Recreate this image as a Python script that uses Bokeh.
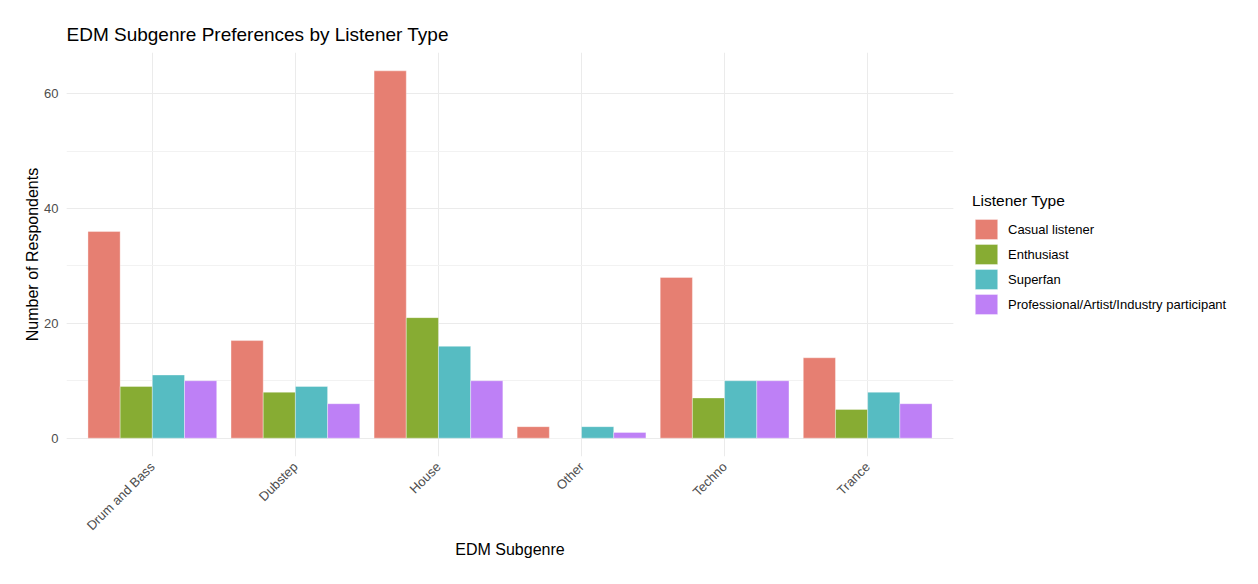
import math
from bokeh.plotting import figure
from bokeh.models import (ColumnDataSource, FactorRange, Range1d, Legend, LegendItem,
                          SingleIntervalTicker)
from bokeh.transform import dodge
from bokeh.embed import file_html
from bokeh.resources import INLINE

# ---- data ----
genres = ["Drum and Bass", "Dubstep", "House", "Other", "Techno", "Trance"]
listener_types = ["Casual listener", "Enthusiast", "Superfan",
                  "Professional/Artist/Industry participant"]
casual = [36, 17, 64, 2, 28, 14]
enthusiast = [9, 8, 21, 0, 7, 5]
superfan = [11, 9, 16, 2, 10, 8]
professional = [10, 6, 10, 1, 10, 6]
colors = ["#E67F72", "#87AC33", "#56BCC2", "#BE80F6"]

series = [casual, enthusiast, superfan, professional]
keys = ["casual", "enthusiast", "superfan", "professional"]

FONT = "Liberation Sans"

source = ColumnDataSource(dict(genre=genres, **{k: v for k, v in zip(keys, series)}))

ymax = max(max(s) for s in series)
pad = 0.05 * ymax

p = figure(frame_width=887, frame_height=404,
           x_range=FactorRange(*genres, range_padding=0.1, range_padding_units="absolute"),
           y_range=Range1d(-pad, ymax + pad),
           output_backend="svg", toolbar_location=None,
           min_border_left=66, min_border_right=0,
           min_border_top=52, min_border_bottom=120,
           title="EDM Subgenre Preferences by Listener Type")

p.outline_line_color = None
p.background_fill_color = "white"
p.border_fill_color = "white"

# title
p.title.text_font = FONT
p.title.text_font_size = "19px"
p.title.text_font_style = "normal"
p.title.text_color = "#000000"
p.title.align = "left"
p.title.standoff = 15

# dodge
dodge_width = 0.9
n = len(series)
bar_w = dodge_width / n
offsets = [-dodge_width / 2 + bar_w * (j + 0.5) for j in range(n)]

items = []
for j, (k, lab, c) in enumerate(zip(keys, listener_types, colors)):
    r = p.vbar(x=dodge("genre", offsets[j], range=p.x_range), top=k, bottom=0,
               width=bar_w, source=source, fill_color=c,
               line_color="white", line_alpha=0.35, line_width=1)
    items.append(LegendItem(label=lab, renderers=[r]))

# axes
p.yaxis.ticker = SingleIntervalTicker(interval=20, num_minor_ticks=2)
for ax in (p.xaxis[0], p.yaxis[0]):
    ax.axis_line_color = None
    ax.major_tick_line_color = None
    ax.minor_tick_line_color = None
    ax.major_tick_out = 0
    ax.minor_tick_out = 0
    ax.major_label_text_font = FONT
    ax.major_label_text_font_size = "13px"
    ax.major_label_text_color = "#4D4D4D"
    ax.axis_label_text_font = FONT
    ax.axis_label_text_font_size = "16px"
    ax.axis_label_text_font_style = "normal"
    ax.axis_label_text_color = "#000000"

p.yaxis.axis_label = "Number of Respondents"
p.yaxis.major_label_standoff = 8
p.yaxis.axis_label_standoff = 0
p.xaxis.axis_label = "EDM Subgenre"
p.xaxis.major_label_orientation = math.pi / 4
p.xaxis.major_label_standoff = 8
p.xaxis.axis_label_standoff = 0

# grids
p.ygrid.grid_line_color = "#EBEBEB"
p.ygrid.grid_line_width = 1
p.ygrid.minor_grid_line_color = "#F2F2F2"
p.ygrid.minor_grid_line_width = 1
p.xgrid.grid_line_color = "#EBEBEB"
p.xgrid.grid_line_width = 1

legend = Legend(items=items, location="center_left", title="Listener Type",
                title_text_font=FONT, title_text_font_size="15.5px",
                title_text_font_style="normal",
                title_text_color="#000000", title_standoff=7,
                label_text_font=FONT, label_text_font_size="13px",
                label_text_color="#000000",
                glyph_width=28, glyph_height=25, spacing=0, label_standoff=8,
                padding=0, margin=19,
                background_fill_alpha=0, border_line_color=None)
p.add_layout(legend, "right")

open("out.html", "w").write(file_html(p, INLINE))
